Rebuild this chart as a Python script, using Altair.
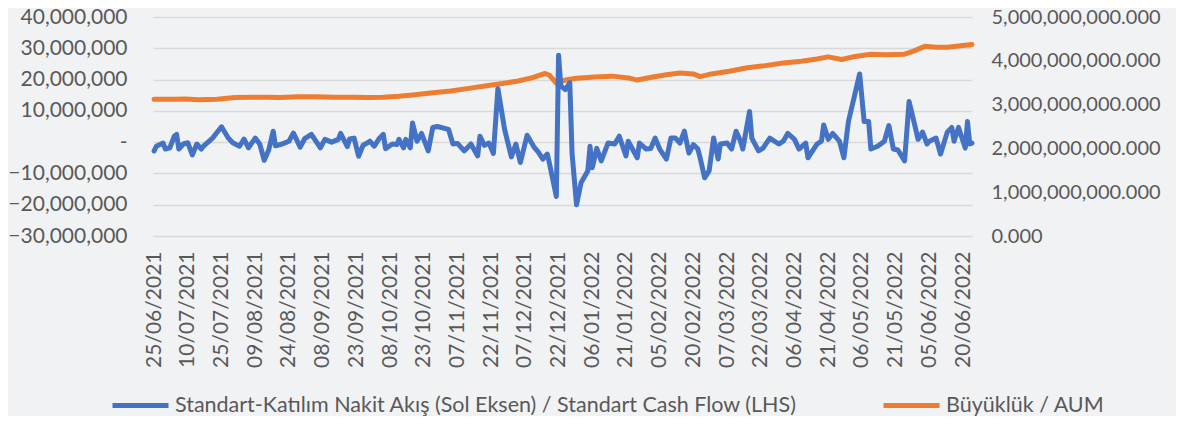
import altair as alt
import pandas as pd

# ---------------- data ----------------
start_date = "2021-06-25"

# day offsets from 25/06/2021 and daily cash flow (TRY)
flow_days = [0, 1, 4, 5, 7, 9, 10, 11, 13, 15, 17, 19, 21, 22, 26, 30, 33, 35, 38, 40,
             42, 45, 47, 49, 51, 53, 54, 57, 59, 60, 62, 65, 67, 70, 72, 74, 76, 79, 82, 83,
             86, 87, 89, 91, 93, 95, 96, 98, 100, 102, 103, 106, 108, 109, 111, 112, 114, 115, 117, 119,
             122, 124, 126, 131, 133, 135, 138, 141, 144, 145, 147, 149, 151, 153, 156, 159, 161, 163, 166, 169,
             171, 173, 175, 176, 179, 180, 181, 183, 185, 186, 188, 190, 193, 194, 195, 197, 199, 202, 205, 207,
             210, 211, 215, 216, 219, 221, 223, 225, 228, 230, 232, 234, 236, 238, 240, 242, 243, 245, 247, 249,
             251, 252, 255, 257, 259, 261, 262, 265, 266, 269, 271, 274, 278, 280, 282, 285, 287, 290, 291, 295,
             297, 298, 300, 302, 305, 307, 309, 314, 316, 318, 319, 322, 325, 327, 329, 331, 334, 336, 339, 340,
             342, 344, 345, 348, 350, 353, 355, 356, 358, 361, 362, 363, 364]
flow_values = [-2800000, -1300000, -300000, -2200000, -1800000, 1900000, 2500000, -2200000, -600000, -200000,
               -4100000, -600000, -2200000, -1300000, 1300000, 4900000, 1300000, -200000, -1300000, 1000000,
               -1800000, 1300000, -600000, -5800000, -2500000, 3500000, -1200000, -600000, 0, 300000,
               2900000, -1600000, 1100000, 2500000, 300000, -1800000, 900000, 0, 900000, 2800000,
               -1400000, 1000000, 1300000, -4500000, -1000000, -200000, 300000, -1300000, 1000000, 2500000,
               -2100000, -600000, -800000, 900000, -1800000, 900000, -1800000, 6100000, 300000, 2800000,
               -2800000, 4700000, 5000000, 4100000, -600000, -400000, -2800000, -600000, -4400000, 1900000,
               -1000000, -300000, -3600000, 17100000, 4000000, -4700000, -600000, -6500000, 2200000, -1500000,
               -3200000, -5400000, -3800000, -7000000, -17400000, 27800000, 18000000, 16800000, 19000000, -3500000,
               -20000000, -13000000, -9200000, -1300000, -8200000, -2000000, -6000000, -300000, -600000, 1900000,
               -4400000, 300000, -5000000, -300000, -2200000, -2000000, 1300000, -2200000, -5400000, 1300000,
               1300000, -300000, 3500000, -3500000, -800000, -2200000, -5000000, -11400000, -9200000, 1300000,
               -5400000, -600000, -300000, -2200000, 3500000, 300000, -2200000, 9800000, 1300000, -2800000,
               -1900000, 1300000, -600000, 300000, 2800000, 900000, -2200000, -300000, -5000000, -600000,
               300000, 5500000, 900000, 2800000, 300000, -5000000, 6600000, 21800000, 6600000, 6600000,
               -2200000, -1300000, 300000, 5300000, -2200000, -2500000, -6000000, 13000000, 4000000, 900000,
               3200000, -600000, 300000, 1300000, -3800000, 3200000, 4700000, 300000, 4700000, -1900000,
               6600000, -600000, -300000]

# day offsets and assets under management (TRY)
aum_days = [0, 8, 14, 20, 28, 36, 44, 50, 56, 64, 72, 80, 88, 95, 102, 109, 115, 124, 132, 140,
            148, 155, 162, 168, 174, 176, 179, 183, 188, 196, 204, 212, 215, 222, 228, 234, 240, 243, 248, 256,
            264, 272, 280, 288, 295, 300, 306, 312, 319, 326, 334, 338, 343, 348, 353, 358, 364]
aum_values = [3120000000, 3120000000, 3130000000, 3110000000, 3120000000, 3160000000, 3170000000, 3170000000,
              3160000000, 3180000000, 3180000000, 3170000000, 3170000000, 3160000000, 3170000000, 3190000000,
              3220000000, 3270000000, 3310000000, 3370000000, 3430000000, 3480000000, 3540000000, 3610000000,
              3710000000, 3670000000, 3490000000, 3560000000, 3600000000, 3630000000, 3650000000, 3600000000,
              3560000000, 3630000000, 3680000000, 3720000000, 3700000000, 3640000000, 3700000000, 3760000000,
              3840000000, 3890000000, 3950000000, 3990000000, 4040000000, 4090000000, 4030000000, 4100000000,
              4150000000, 4140000000, 4150000000, 4220000000, 4330000000, 4310000000, 4310000000, 4340000000,
              4370000000]

tick_labels = ["25/06/2021", "10/07/2021", "25/07/2021", "09/08/2021", "24/08/2021", "08/09/2021",
               "23/09/2021", "08/10/2021", "23/10/2021", "07/11/2021", "22/11/2021", "07/12/2021",
               "22/12/2021", "06/01/2022", "21/01/2022", "05/02/2022", "20/02/2022", "07/03/2022",
               "22/03/2022", "06/04/2022", "21/04/2022", "06/05/2022", "21/05/2022", "05/06/2022",
               "20/06/2022"]

left_ticks = [-30000000, -20000000, -10000000, 0, 10000000, 20000000, 30000000, 40000000]
right_ticks = [0, 1000000000, 2000000000, 3000000000, 4000000000, 5000000000]

series_names = ["Standart-Katılım Nakit Akış (Sol Eksen) / Standart Cash Flow (LHS)", "Büyüklük / AUM"]
series_colors = ["#4472C4", "#ED7D31"]

# ---------------- tables ----------------
t0 = pd.Timestamp(start_date)
flow_df = pd.DataFrame({
    "date": [(t0 + pd.Timedelta(days=d)).strftime("%Y-%m-%d") for d in flow_days],
    "value": flow_values,
    "series": series_names[0],
})
aum_df = pd.DataFrame({
    "date": [(t0 + pd.Timedelta(days=d)).strftime("%Y-%m-%d") for d in aum_days],
    "value": aum_values,
    "series": series_names[1],
})

def to_ms(ts):
    return int(ts.value // 10**6)

tick_ms = [to_ms(pd.to_datetime(t, format="%d/%m/%Y")) for t in tick_labels]
x_domain = [to_ms(t0) - 43200000, to_ms(t0 + pd.Timedelta(days=364))]

FONT = "Lato"
TXT = "#595959"

x_enc = alt.X(
    "date:T",
    scale=alt.Scale(type="utc", domain=x_domain),
    axis=alt.Axis(
        values=tick_ms,
        labelExpr="utcFormat(datum.value, '%d/%m/%Y')",
        labelAngle=270,
        labelOverlap=False,
        labelFlush=False,
        labelPadding=15,
        labelFontSize=21,
        labelColor=TXT,
        labelFont=FONT,
        domain=False,
        ticks=False,
        grid=False,
        title=None,
    ),
)

color_enc = alt.Color(
    "series:N",
    scale=alt.Scale(domain=series_names, range=series_colors),
    legend=alt.Legend(
        orient="none",
        legendX=-43,
        legendY=358,
        direction="horizontal",
        title=None,
        symbolType="stroke",
        symbolSize=3136,
        symbolStrokeWidth=5,
        labelFontSize=21.5,
        labelFont=FONT,
        labelColor=TXT,
        labelLimit=1000,
        labelOffset=4,
        columnPadding=75,
        padding=0,
    ),
)

zero_label = "-\u00a0\u00a0\u00a0"
flow_line = alt.Chart(flow_df).mark_line(strokeWidth=5, strokeJoin="round", strokeCap="round").encode(
    x=x_enc,
    y=alt.Y(
        "value:Q",
        scale=alt.Scale(domain=[-30000000, 40000000], nice=False, zero=False),
        axis=alt.Axis(
            orient="left",
            values=left_ticks,
            labelExpr="datum.value == 0 ? '" + zero_label + "' : format(datum.value, ',')",
            labelPadding=26,
            labelFontSize=21,
            labelFont=FONT,
            labelColor=TXT,
            domain=False,
            ticks=False,
            grid=True,
            gridColor="#d9d9d9",
            gridWidth=1.5,
            title=None,
        ),
    ),
    color=color_enc,
)

aum_line = alt.Chart(aum_df).mark_line(strokeWidth=5, strokeJoin="round", strokeCap="round").encode(
    x=x_enc,
    y=alt.Y(
        "value:Q",
        scale=alt.Scale(domain=[0, 5000000000], nice=False),
        axis=alt.Axis(
            orient="right",
            values=right_ticks,
            format=",.3f",
            labelPadding=19,
            labelFontSize=20,
            labelFont=FONT,
            labelColor=TXT,
            domain=False,
            ticks=False,
            grid=False,
            title=None,
        ),
    ),
    color=color_enc,
)

chart = (
    alt.layer(aum_line, flow_line)
    .resolve_scale(y="independent")
    .properties(
        width=819,
        height=219,
        padding={"left": 145, "top": 9, "right": 204, "bottom": 180},
        autosize=alt.AutoSizeParams(type="none"),
        background="#f1f2f4",
    )
    .configure_view(stroke=None)
)

chart.save("out.html", embed_options={"renderer": "svg", "actions": False})
